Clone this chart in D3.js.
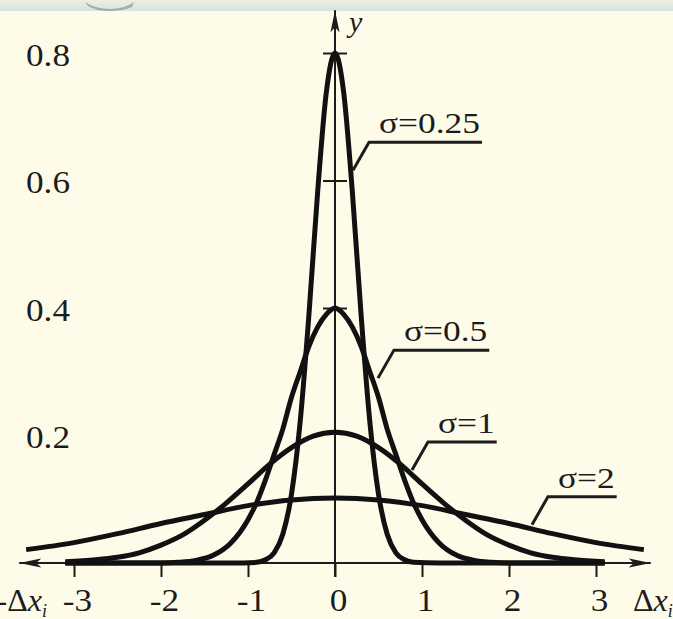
<!DOCTYPE html>
<html lang="en">
<head>
<meta charset="UTF-8">
<title>Error distribution curves</title>
<script src="https://cdn.jsdelivr.net/npm/d3@7"></script>
<style>
  body { margin: 0; background: #fefce9; }
  text { font-family: "Liberation Serif", "Times New Roman", serif; fill: #1c1c1c; }
</style>
</head>
<body>
<script>
// ticks
const xTicks = [-3, -2, -1, 0, 1, 2, 3];
const yTicks = [0.2, 0.4, 0.6, 0.8];

// curve names
const sigmas = ["σ=0.25", "σ=0.5", "σ=1", "σ=2"];

// points, one x list and one y list per curve
const x025 = [-3.1, -1.2, -0.9, -0.8, -0.7, -0.6, -0.5, -0.4, -0.3, -0.2, -0.1, 0, 0.1, 0.2, 0.3, 0.4, 0.5, 0.6, 0.7, 0.8, 0.9, 1.2, 3.1];
const y025 = [0, 0, 0.001, 0.005, 0.016, 0.045, 0.108, 0.222, 0.389, 0.581, 0.738, 0.8, 0.738, 0.581, 0.389, 0.222, 0.108, 0.045, 0.016, 0.005, 0.001, 0, 0];

const x05 = [-3.1, -2.0, -1.8, -1.6, -1.4, -1.2, -1.0, -0.9, -0.8, -0.7, -0.6, -0.5, -0.4, -0.3, -0.2, -0.1, 0, 0.1, 0.2, 0.3, 0.4, 0.5, 0.6, 0.7, 0.8, 0.9, 1.0, 1.2, 1.4, 1.6, 1.8, 2.0, 3.1];
const y05 = [0, 0, 0.001, 0.004, 0.012, 0.031, 0.068, 0.095, 0.13, 0.17, 0.21, 0.26, 0.30, 0.34, 0.37, 0.39, 0.40, 0.39, 0.37, 0.34, 0.30, 0.26, 0.21, 0.17, 0.13, 0.095, 0.068, 0.031, 0.012, 0.004, 0.001, 0, 0];

const x1 = [-3.1, -2.75, -2.5, -2.25, -2.0, -1.75, -1.5, -1.25, -1.0, -0.75, -0.5, -0.25, 0, 0.25, 0.5, 0.75, 1.0, 1.25, 1.5, 1.75, 2.0, 2.25, 2.5, 2.75, 3.1];
const y1 = [0.002, 0.005, 0.009, 0.016, 0.028, 0.044, 0.067, 0.094, 0.124, 0.155, 0.181, 0.199, 0.205, 0.199, 0.181, 0.155, 0.124, 0.094, 0.067, 0.044, 0.028, 0.016, 0.009, 0.005, 0.002];

const x2 = [-3.55, -3.0, -2.5, -2.0, -1.5, -1.0, -0.5, 0, 0.5, 1.0, 1.5, 2.0, 2.5, 3.0, 3.55];
const y2 = [0.021, 0.032, 0.046, 0.062, 0.076, 0.09, 0.099, 0.102, 0.099, 0.09, 0.076, 0.062, 0.046, 0.032, 0.021];

// where each label's leader touches its curve
const leaderX = [0.207, 0.494, 0.885, 2.264];
const leaderY = [0.616, 0.29, 0.146, 0.06];

const width = 673, height = 619;
const svg = d3.select("body").append("svg")
    .attr("width", width)
    .attr("height", height);

svg.append("rect").attr("width", width).attr("height", height).attr("fill", "#fefce9");

// slide header strip
const grad = svg.append("defs").append("linearGradient")
    .attr("id", "strip").attr("x1", 0).attr("x2", 0).attr("y1", 0).attr("y2", 1);
grad.append("stop").attr("offset", "0%").attr("stop-color", "#eef0dc");
grad.append("stop").attr("offset", "100%").attr("stop-color", "#d6e2e6");
svg.append("rect").attr("width", width).attr("height", 11).attr("fill", "url(#strip)");
svg.append("path").attr("d", "M85,2 Q95,9 110,9 Q125,9 134,2 L132,7 Q122,11 110,11 Q96,11 88,6 Z")
    .attr("fill", "#8d918e").attr("opacity", 0.7);

const x = d3.scaleLinear().domain([-3, 3]).range([74, 596]);
const y = d3.scaleLinear().domain([0, 0.8]).range([563, 53]);

const ink = "#1c1c1c";

// arrow marker
svg.select("defs").append("marker")
    .attr("id", "arrow")
    .attr("markerUnits", "userSpaceOnUse")
    .attr("viewBox", "0 -6 24 12")
    .attr("markerWidth", 24).attr("markerHeight", 12)
    .attr("refX", 22).attr("refY", 0)
    .attr("orient", "auto-start-reverse")
    .append("path")
    .attr("d", "M0,-4.5L22,0L0,4.5L5,0Z")
    .attr("fill", ink);

// x axis
const xAxis = svg.append("g")
    .attr("transform", `translate(0,${y(0)})`)
    .call(d3.axisBottom(x).tickValues(xTicks).tickSize(14).tickFormat(d => String(d)));
xAxis.select(".domain").remove();
xAxis.selectAll("line").attr("stroke", ink).attr("stroke-width", 2);
xAxis.selectAll("text")
    .attr("y", null).attr("dy", null)
    .attr("fill", ink)
    .style("font-size", "32px")
    .attr("transform", "translate(3,48) scale(1.1,1)");

svg.append("line")
    .attr("x1", x(-3.63)).attr("x2", x(3.63))
    .attr("y1", y(0)).attr("y2", y(0))
    .attr("stroke", ink).attr("stroke-width", 2)
    .attr("marker-start", "url(#arrow)")
    .attr("marker-end", "url(#arrow)");

// y axis (crossbar ticks; the 0.2 one is hidden under the σ=1 peak)
const yAxis = svg.append("g")
    .attr("transform", `translate(${x(0)},0)`)
    .call(d3.axisLeft(y).tickValues(yTicks).tickFormat(d3.format(".1f")));
yAxis.select(".domain").remove();
yAxis.selectAll("line")
    .attr("x1", -12).attr("x2", 12)
    .attr("stroke", ink).attr("stroke-width", 2)
    .attr("display", d => d < 0.3 ? "none" : null);
yAxis.selectAll("text")
    .attr("x", null).attr("dy", null)
    .attr("fill", ink)
    .attr("text-anchor", "middle")
    .style("font-size", "32px")
    .attr("transform", `translate(${48 - x(0)},12) scale(1.1,1)`);

svg.append("line")
    .attr("x1", x(0)).attr("x2", x(0))
    .attr("y1", y(0) + 14).attr("y2", y(0.867))
    .attr("stroke", ink).attr("stroke-width", 2)
    .attr("marker-end", "url(#arrow)");

svg.append("text")
    .attr("x", x(0) + 14).attr("y", 32)
    .style("font-size", "30px").style("font-style", "italic")
    .text("y");

// Δx labels (cut by the frame edges, as in the source)
const rightLbl = svg.append("text")
    .attr("x", 633).attr("y", 611)
    .style("font-size", "32px");
rightLbl.append("tspan").text("Δ");
rightLbl.append("tspan").style("font-style", "italic").text("x");
rightLbl.append("tspan").attr("dy", 6).style("font-size", "18px").style("font-style", "italic").text("i");

const leftLbl = svg.append("text")
    .attr("x", 47).attr("y", 611)
    .attr("text-anchor", "end")
    .style("font-size", "32px");
leftLbl.append("tspan").text("-Δ");
leftLbl.append("tspan").style("font-style", "italic").text("x");
leftLbl.append("tspan").attr("dy", 6).style("font-size", "18px").style("font-style", "italic").text("i");

// curves
const curves = [
    d3.zip(x025, y025),
    d3.zip(x05, y05),
    d3.zip(x1, y1),
    d3.zip(x2, y2)
];

const line = d3.line()
    .x(d => x(d[0]))
    .y(d => y(d[1]))
    .curve(d3.curveMonotoneX);

svg.selectAll(".curve")
    .data(curves)
    .enter().append("path")
    .attr("class", "curve")
    .attr("d", line)
    .attr("fill", "none")
    .attr("stroke", "#111")
    .attr("stroke-width", 5)
    .attr("stroke-linejoin", "round");

// labels with leaders
sigmas.forEach((name, i) => {
    const px = x(leaderX[i]), py = y(leaderY[i]);
    const ex = px + 16, ey = py - 28;
    const t = svg.append("text")
        .attr("transform", `translate(${ex + 10},${ey - 9}) scale(1.18,1)`)
        .style("font-size", "30px")
        .text(name);
    const w = t.node().getComputedTextLength() * 1.18;
    svg.append("polyline")
        .attr("points", [[px, py], [ex, ey], [ex + 10 + w + 2, ey]].map(p => p.join(",")).join(" "))
        .attr("fill", "none")
        .attr("stroke", ink)
        .attr("stroke-width", 3);
});
</script>
</body>
</html>
